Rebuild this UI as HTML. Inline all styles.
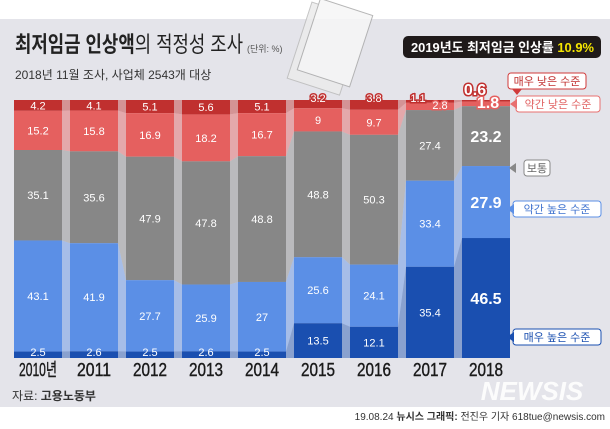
<!DOCTYPE html>
<html><head><meta charset="utf-8"><style>
body{margin:0;width:610px;height:424px;overflow:hidden;background:#fff;font-family:"Liberation Sans","Noto Sans CJK KR",sans-serif}
svg text{font-family:"Liberation Sans","Noto Sans CJK KR",sans-serif}
</style></head><body>
<svg id="s" width="610" height="424" xmlns="http://www.w3.org/2000/svg">
<rect x="0" y="19" width="610" height="388" fill="#e4e4ea"/>
<g transform="rotate(18 330 50)" opacity="0.85">
<rect x="298" y="10" width="55" height="80" fill="#ececec" stroke="#bbb"/>
<rect x="305" y="4" width="55" height="75" fill="#f6f6f6" stroke="#aaa"/>
</g>
<text x="15" y="52" font-size="22" font-weight="bold" fill="#222" textLength="228" lengthAdjust="spacingAndGlyphs">최저임금 인상액<tspan font-weight="normal">의 적정성 조사</tspan></text>
<text x="247" y="52" font-size="9" fill="#555">(단위: %)</text>
<text x="15" y="79" font-size="12" fill="#333">2018년 11월 조사, 사업체 2543개 대상</text>
<rect x="403" y="36" width="198" height="22" rx="5" fill="#1f1a1a"/>
<text x="411" y="52" font-size="13" font-weight="bold" fill="#fff" textLength="183" lengthAdjust="spacingAndGlyphs">2019년도 최저임금 인상률 <tspan fill="#f5e600">10.9%</tspan></text>
<g id="bands"></g><g id="bars"></g>
<text x="12" y="400" font-size="12" fill="#333">자료: <tspan font-weight="bold">고용노동부</tspan></text>
<text x="532" y="400" font-size="26" font-weight="bold" font-style="italic" fill="#fff" text-anchor="middle" opacity="0.9">NEWSIS</text>
<text x="605" y="420" font-size="10" fill="#333" text-anchor="end">19.08.24 <tspan font-weight="bold">뉴시스 그래픽:</tspan> 전진우 기자 618tue@newsis.com</text>
<g font-size="11">
<rect x="508" y="73" width="78" height="16" rx="3" fill="#fff" stroke="#d03a3a"/><text x="547" y="85" text-anchor="middle" fill="#c0302f">매우 낮은 수준</text>
<path d="M512 89 l5 6 5 -6z" fill="#d03a3a"/>
<rect x="516" y="96" width="84" height="16" rx="3" fill="#fff" stroke="#e87070"/><text x="558" y="108" text-anchor="middle" fill="#e06060">약간 낮은 수준</text>
<rect x="524" y="160" width="26" height="16" rx="3" fill="#fff" stroke="#888"/><text x="537" y="172" text-anchor="middle" fill="#666">보통</text>
<rect x="513" y="201" width="88" height="16" rx="3" fill="#fff" stroke="#5b8fe6"/><text x="557" y="213" text-anchor="middle" fill="#3e72cf">약간 높은 수준</text>
<rect x="513" y="329" width="88" height="16" rx="3" fill="#fff" stroke="#1a4fb0"/><text x="557" y="341" text-anchor="middle" fill="#1a4fb0">매우 높은 수준</text>
<path d="M516 163 l-7 5 7 5z" fill="#888"/><path d="M514 204 l-7 5 7 5z" fill="#5b8fe6"/><path d="M514 332 l-7 5 7 5z" fill="#1a4fb0"/><path d="M517 99 l-7 5 7 5z" fill="#e87070"/>
</g>
</svg>
<script>
const d=[["2010년",[4.2,15.2,35.1,43.1,2.5]],["2011",[4.1,15.8,35.6,41.9,2.6]],["2012",[5.1,16.9,47.9,27.7,2.5]],["2013",[5.6,18.2,47.8,25.9,2.6]],["2014",[5.1,16.7,48.8,27,2.5]],["2015",[3.2,9,48.8,25.6,13.5]],["2016",[3.8,9.7,50.3,24.1,12.1]],["2017",[1.1,2.8,27.4,33.4,35.4]],["2018",[0.6,1.8,23.2,27.9,46.5]]];
const col=["#c0302f","#e5605f","#878787","#5b8fe6","#1a4fb0"];
const T=100,H=258,W=48;let bars="",bands="";
const ys=d.map(([n,v])=>{let s=v.reduce((a,b)=>a+b,0);let y=T,r=[T];v.forEach(x=>{y+=x/s*H;r.push(y)});return r;});
d.forEach(([n,v],i)=>{const x=14+i*56,y=ys[i];
 if(i<8){const x2=x+56,y2=ys[i+1];for(let k=0;k<5;k++)bands+=`<polygon points="${x+W},${y[k]} ${x2},${y2[k]} ${x2},${y2[k+1]} ${x+W},${y[k+1]}" fill="${col[k]}" opacity="0.45"/>`;}
 for(let k=0;k<5;k++){bars+=`<rect x="${x}" y="${y[k]}" width="${W}" height="${y[k+1]-y[k]}" fill="${col[k]}"/>`;}
 const big=i==8,fs=big?16:11,fw=big?"bold":"normal";
 for(let k=0;k<5;k++){let cy=(y[k]+y[k+1])/2+4,cx=x+W/2;let small=(y[k+1]-y[k])<11;let out=false;
  if(small){ if(k==0&&i>=5){cy=y[0]+2;out=true;if(i==7)cx=x+12;}
   else if(k==1){cy=y[2]-1;out=true;if(i==7)cx=x+34;}
   else if(k==4){cy=y[5]-2;} }
  if(big&&k<2){out=true;cy=k==0?y[0]-5:y[2]+2;cx=k==0?x+13:x+W-22;}
  bars+=`<text x="${cx}" y="${cy+(big&&k>=2?2:0)}" font-size="${fs}" font-weight="${fw}" fill="#fff" text-anchor="middle" stroke="${out?col[k]:'none'}" stroke-width="${out?3:0}" paint-order="stroke">${v[k]}</text>`;}
 bars+=`<text x="${x+W/2}" y="376" font-size="18" fill="#1a1a1a" stroke="#1a1a1a" stroke-width="0.4" text-anchor="middle" textLength="${n.length>4?38:34}" lengthAdjust="spacingAndGlyphs">${n}</text>`;});
document.getElementById("bands").innerHTML=bands;document.getElementById("bars").innerHTML=bars;
</script>
</body></html>
